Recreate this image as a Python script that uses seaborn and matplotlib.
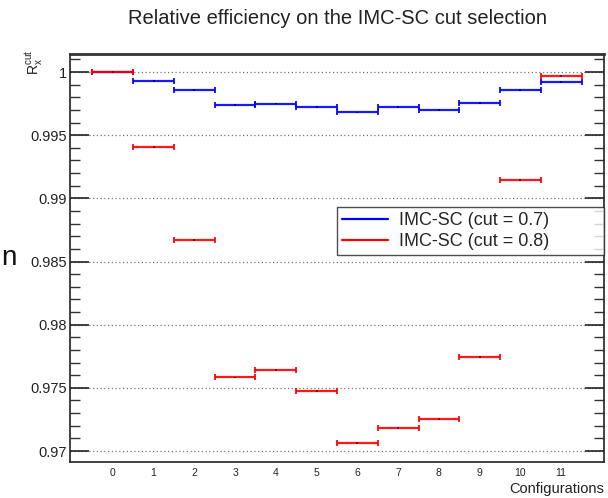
import numpy as np
import pandas as pd
import matplotlib
matplotlib.use("Agg")
import matplotlib.pyplot as plt
from matplotlib.ticker import MultipleLocator, FixedLocator, FixedFormatter
import seaborn as sns

configs = list(range(12))
tick_labels = [str(c) for c in configs]
eff_07 = [1.0, 0.99931, 0.99857, 0.99736, 0.99751, 0.99725, 0.99680,
          0.99722, 0.99698, 0.99757, 0.99857, 0.99918]
eff_08 = [1.0, 0.99407, 0.98667, 0.97582, 0.97643, 0.97474, 0.97064,
          0.97185, 0.97254, 0.97744, 0.99148, 0.99968]
series_names = ["IMC-SC (cut = 0.7)", "IMC-SC (cut = 0.8)"]
colors = ["#0000ff", "#ff0000"]

df = pd.DataFrame({
    "config": configs * 2,
    "eff": eff_07 + eff_08,
    "series": [series_names[0]] * 12 + [series_names[1]] * 12,
})

sns.set_theme(style="white")
plt.rcParams["font.family"] = ["Liberation Sans", "DejaVu Sans"]

fig = plt.figure(figsize=(6.08, 4.98), dpi=100)
ax = fig.add_axes([70 / 608, 1 - 462 / 498, (604 - 70) / 608, (462 - 54) / 498])

handles = []
for name, col in zip(series_names, colors):
    sub = df[df["series"] == name]
    ax.errorbar(sub["config"], sub["eff"], xerr=0.5, fmt="none",
                ecolor=col, elinewidth=1.6, capsize=2.5, capthick=1.4,
                alpha=0.9, zorder=3)
    handles.append(plt.Line2D([], [], color=col, lw=1.6))

sns.scatterplot(data=df, x="config", y="eff", hue="series",
                palette=dict(zip(series_names, ["#000080", "#800000"])),
                s=2, marker="s", linewidth=0, legend=False, ax=ax, zorder=4)

ax.set_xlim(-1.05, 12.05)
ax.set_ylim(0.96913, 1.00143)

ax.xaxis.set_major_locator(FixedLocator(configs))
ax.xaxis.set_major_formatter(FixedFormatter(tick_labels))
ax.yaxis.set_minor_locator(MultipleLocator(0.001))
ax.set_yticks([0.97, 0.975, 0.98, 0.985, 0.99, 0.995, 1.0])
ax.set_yticklabels(["0.97", "0.975", "0.98", "0.985", "0.99", "0.995", "1"])

ax.tick_params(axis="x", length=0, labelsize=7.5, pad=4, colors="#222222")
ax.tick_params(axis="y", which="major", direction="in", length=14, width=1.2,
               left=True, right=True, labelsize=10.5, pad=2, colors="#222222")
ax.tick_params(axis="y", which="minor", direction="in", length=7, width=1.0,
               left=True, right=True, colors="#333333")

ax.yaxis.grid(True, which="major", linestyle=(0, (1, 2)), color="#777777", lw=0.9)
ax.xaxis.grid(False)

for side in ["left", "right", "bottom"]:
    ax.spines[side].set_color("#222222")
    ax.spines[side].set_linewidth(1.2)
ax.spines["top"].set_color("#333333")
ax.spines["top"].set_linewidth(2.0)

ax.set_xlabel("")
ax.set_ylabel("")

ax_w = 604 - 70
ax_h = 462 - 54
leg = ax.legend(handles, series_names, loc="upper left",
                bbox_to_anchor=((337 - 70) / ax_w, (462 - 207) / ax_h,
                                (604 - 337) / ax_w, 0.0),
                mode="expand",
                fontsize=13, frameon=True, fancybox=False,
                handlelength=2.5, borderpad=0.3, labelspacing=0.2,
                handletextpad=0.65, borderaxespad=0.0)
leg.get_frame().set_edgecolor("#222222")
leg.get_frame().set_linewidth(1.0)

fig.text(337 / 608, 1 - 18 / 498, "Relative efficiency on the IMC-SC cut selection",
         ha="center", va="center", fontsize=14.5, color="#222222")
fig.text(604 / 608, 1 - 489 / 498, "Configurations", ha="right", va="center",
         fontsize=10.5, color="#222222")
fig.text(34 / 608, 1 - 62 / 498, r"R$_{\mathregular{x}}^{\mathregular{cut}}$",
         rotation=90, ha="center", va="center", fontsize=10, color="#222222")
fig.text(1 / 608, 1 - 258 / 498, "n", ha="left", va="center", fontsize=20,
         color="#111111")

fig.savefig("out.png", dpi=100)
